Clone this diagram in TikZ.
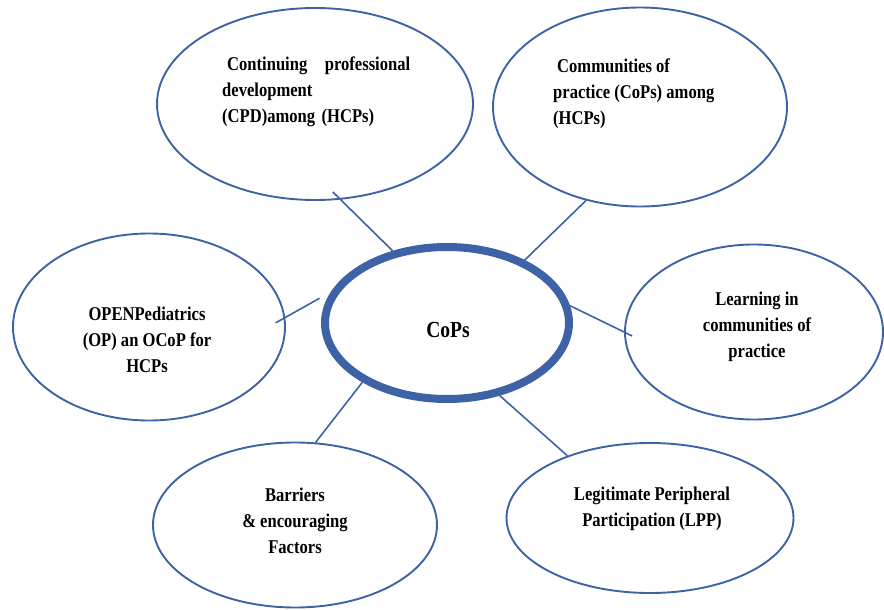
\documentclass[tikz,border=0pt]{standalone}
\usepackage{fontspec}
\setmainfont{Liberation Serif}[FakeStretch=0.85]
\usepackage{tikz}
\usetikzlibrary{shapes.geometric}
\definecolor{cblue}{RGB}{61,98,166}

\begin{document}
\begin{tikzpicture}[x=1pt,y=-1pt,
  bubble/.style={draw=cblue, ellipse, line width=1.9pt, inner sep=0pt},
  lbl/.style={font=\fontsize{19.5}{26}\selectfont\bfseries, inner sep=0pt, anchor=north},
  link/.style={draw=cblue, line width=1.6pt}]
\useasboundingbox (0,0) rectangle (884,610);
\node[bubble, minimum width=316pt, minimum height=192pt] (cpd) at (315,104) {};
\node[bubble, minimum width=294pt, minimum height=199pt] (cop) at (640,107) {};
\node[bubble, minimum width=272pt, minimum height=187pt] (op) at (149,327) {};
\node[bubble, minimum width=258pt, minimum height=175pt] (learn) at (754,332) {};
\node[bubble, minimum width=284pt, minimum height=165pt] (barr) at (295,525) {};
\node[bubble, minimum width=287pt, minimum height=150pt] (lpp) at (650,518) {};
\node[bubble, line width=8pt, minimum width=244pt, minimum height=152pt] (cops) at (447,323) {};
\node[lbl, anchor=north west, text width=188pt, align=left] (cpdtxt) at (222,51.8)
  {\strut\hspace{5pt}Continuing\hfill professional\\development\\(CPD)among (HCPs)};
\node[lbl, anchor=north west, align=left] (coptxt) at (553,53.8)
  {\strut\hspace{4pt}Communities of\\practice (CoPs) among\\(HCPs)};
\node[lbl, align=center] (optxt) at (147,301.8) {\strut OPENPediatrics\\(OP) an OCoP for\\HCPs};
\node[lbl, align=center] (learntxt) at (757,286.8) {\strut Learning in\\communities of\\practice};
\node[lbl, align=center] (barrtxt) at (295,482.8) {\strut Barriers\\\& encouraging\\Factors};
\node[lbl, align=center] (lpptxt) at (652,481.8) {\strut Legitimate Peripheral\\Participation (LPP)};
\node[font=\fontsize{23}{28}\selectfont\bfseries, anchor=base] (copstxt) at (448,337) {CoPs};
\draw[link, shorten >=-11pt] (cops.127) -- (cpd.-75);
\draw[link] (cops.39) -- (cop.-120);
\draw[link, shorten <=-11pt, shorten >=13pt] (op.4) -- (cops.165);
\draw[link, shorten >=-9pt] (cops.8) -- (learn.180);
\draw[link] (cops.-145) -- (barr.76);
\draw[link] (cops.-54) -- (lpp.143);
\end{tikzpicture}
\end{document}
